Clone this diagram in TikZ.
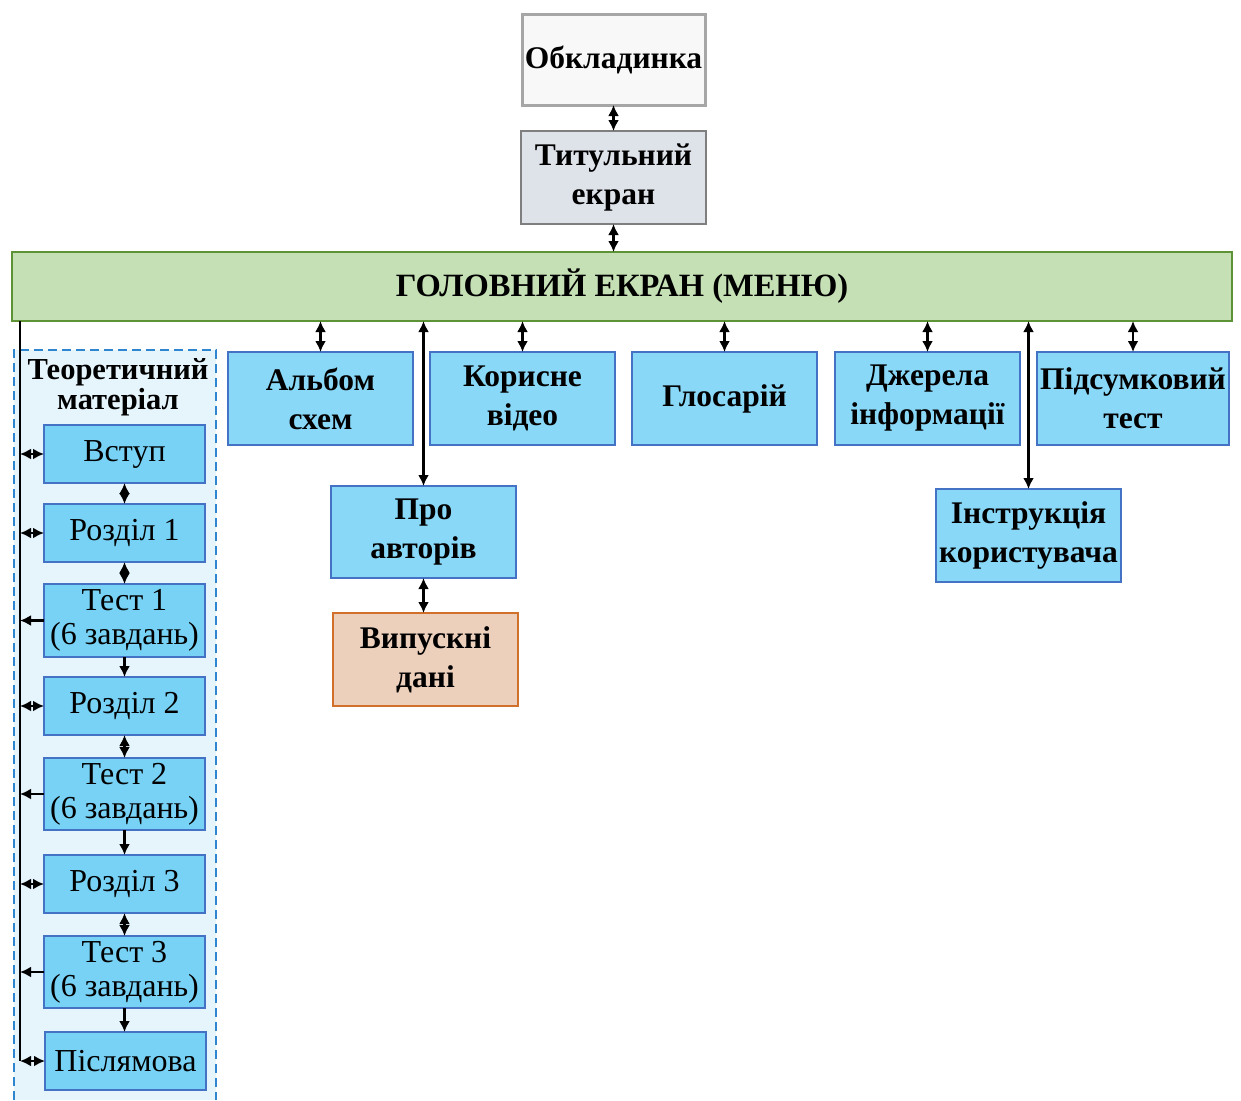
\documentclass[tikz,border=0pt]{standalone}
\usepackage{fontspec}
\setmainfont{Liberation Serif}
\usetikzlibrary{arrows.meta}
\definecolor{topblue}{HTML}{89D8F7}
\definecolor{leftblue}{HTML}{77D2F5}
\definecolor{bordblue}{HTML}{4472C4}
\definecolor{contfill}{HTML}{E6F4FC}
\definecolor{contline}{HTML}{2E86D1}
\definecolor{mainfill}{HTML}{C5E0B4}
\definecolor{mainline}{HTML}{5E9236}
\definecolor{coverfill}{HTML}{F8F8F8}
\definecolor{coverline}{HTML}{A6A6A6}
\definecolor{titfill}{HTML}{DEE2E9}
\definecolor{titline}{HTML}{7F7F7F}
\definecolor{vypfill}{HTML}{EDD0BC}
\definecolor{vypline}{HTML}{D0702A}
\begin{document}
\begin{tikzpicture}[x=1pt,y=-1pt,
  base/.style={inner sep=0pt,outer sep=0pt,align=center,line width=1.5pt},
  topbox/.style={base,draw=bordblue,fill=topblue,minimum width=185pt,minimum height=93pt,font=\fontsize{31.5}{39}\selectfont\bfseries},
  leftbox/.style={base,draw=bordblue,fill=leftblue,minimum width=161pt,minimum height=58pt,font=\fontsize{32}{34}\selectfont},
  biarr/.style={{Latex[length=11pt,width=11pt]}-{Latex[length=11pt,width=11pt]},line width=2.5pt,black},
  onearr/.style={-{Latex[length=11pt,width=11pt]},line width=2.5pt,black},
  trunk/.style={line width=2.2pt,black}]
\useasboundingbox (0,0) rectangle (1241,1100);
% container
\path[fill=contfill] (14,350) rectangle (216,1100);
\draw[contline,line width=1.5pt,dash pattern=on 9pt off 5pt] (14,1100) -- (14,350) -- (216,350) -- (216,1100);
\node[font=\fontsize{30.5}{30}\selectfont\bfseries,align=center,inner sep=0pt] (theory) at (118,387) {Теоретичний\\матеріал};
% top chain
\node[base,draw=coverline,line width=3pt,fill=coverfill,minimum width=183pt,minimum height=91pt,font=\fontsize{31.5}{39}\selectfont\bfseries] (cover) at (613.5,59.5) {Обкладинка};
\node[base,draw=titline,fill=titfill,minimum width=185pt,minimum height=93pt,font=\fontsize{31.5}{39}\selectfont\bfseries] (tit) at (613.5,177.5) {Титульний\\екран};
\node[base,draw=mainline,line width=2pt,fill=mainfill,minimum width=1220pt,minimum height=69pt,font=\fontsize{32.5}{39}\selectfont\bfseries] (main) at (622,286.5) {ГОЛОВНИЙ ЕКРАН (МЕНЮ)};
% top row
\node[topbox] (album) at (320.5,398.5) {Альбом\\схем};
\node[topbox] (video) at (522.5,398.5) {Корисне\\відео};
\node[topbox] (gloss) at (724.5,398.5) {Глосарій};
\node[topbox] (src) at (927.5,398.5) {Джерела\\інформації};
\node[topbox,minimum width=192pt] (final) at (1133,398.5) {Підсумковий\\тест};
\node[topbox,minimum height=92pt] (about) at (423.5,532) {Про\\авторів};
\node[topbox,draw=vypline,fill=vypfill] (vyp) at (425.5,659.5) {Випускні\\дані};
\node[topbox] (instr) at (1028.5,535.5) {Інструкція\\користувача};
% left column
\node[leftbox] (vst) at (124.5,454) {Вступ};
\node[leftbox] (r1) at (124.5,533) {Розділ 1};
\node[leftbox,minimum height=73pt] (t1) at (124.5,620.5) {Тест 1\\(6 завдань)};
\node[leftbox] (r2) at (124.5,706) {Розділ 2};
\node[leftbox,minimum height=72pt] (t2) at (124.5,794) {Тест 2\\(6 завдань)};
\node[leftbox] (r3) at (124.5,884) {Розділ 3};
\node[leftbox,minimum height=72pt] (t3) at (124.5,972) {Тест 3\\(6 завдань)};
\node[leftbox] (pisl) at (125.5,1061) {Післямова};
% arrows top chain
\draw[biarr] (cover.south) -- (tit.north);
\draw[biarr] (tit.south) -- (tit.south |- main.north);
% arrows to top row
\foreach \n in {album,video,gloss,src,final,about,instr}{
  \draw[biarr] (main.south -| \n.north) -- (\n.north);
}
\draw[biarr] (about.south) -- (about.south |- vyp.north);
% left trunk
\coordinate (lx) at (20,0);
\draw[trunk] (main.south -| lx) -- (pisl.west -| lx);
\foreach \n in {vst,r1,r2,r3,pisl}{
  \draw[biarr] (\n.west -| lx) -- (\n.west);
}
\foreach \n in {t1,t2,t3}{
  \draw[onearr] (\n.west) -- (\n.west -| lx);
}
\draw[biarr] (vst.south) -- (r1.north);
\draw[biarr] (r1.south) -- (t1.north);
\draw[onearr] (t1.south) -- (r2.north);
\draw[biarr] (r2.south) -- (t2.north);
\draw[onearr] (t2.south) -- (r3.north);
\draw[biarr] (r3.south) -- (t3.north);
\draw[onearr] (t3.south) -- (t3.south |- pisl.north);
\end{tikzpicture}
\end{document}
